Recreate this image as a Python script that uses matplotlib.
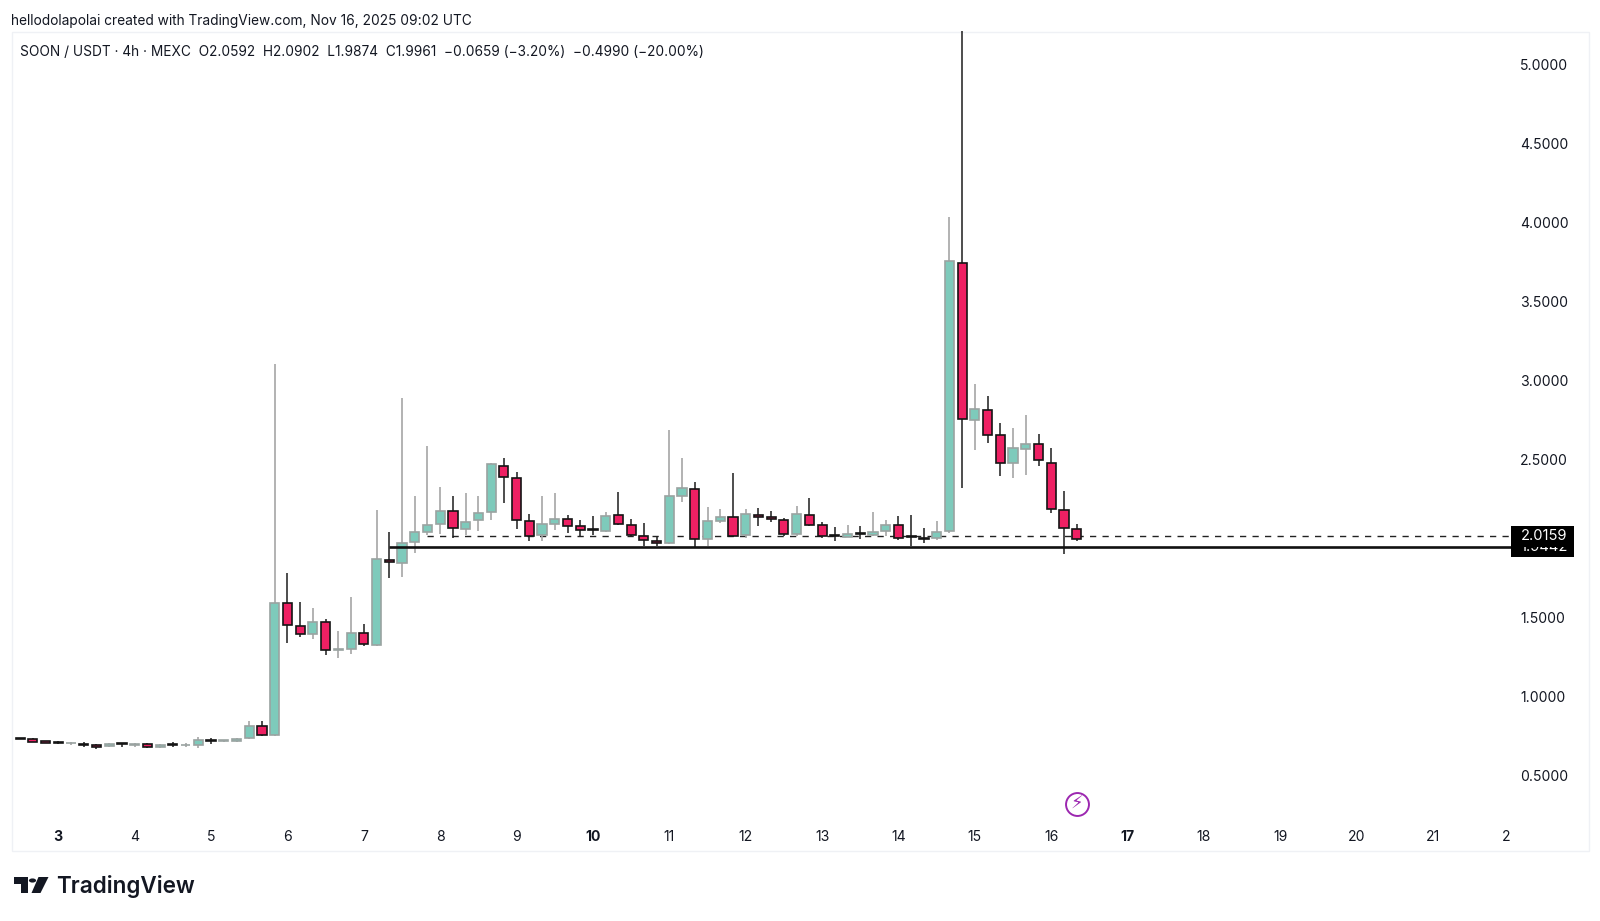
#!/usr/bin/env python3
"""SOON / USDT 4h candles, TradingView snapshot style."""

import numpy as np
import matplotlib
matplotlib.use('Agg')
import matplotlib.pyplot as plt
from matplotlib.patches import Polygon, Rectangle
from matplotlib.transforms import blended_transform_factory

W, H = 1600, 921

# ===================== data =====================
opens = [.735, .729, .716, .712, .703, .701, .693, .688, .704, .696, .700, .679, .700, .692, .693, .725, .720, .720,
         .736, .813, .756, 1.591, 1.447, 1.398, 1.470, 1.293, 1.303, 1.402, 1.326, 1.867, 1.844, 1.979, 2.044, 2.091,
         2.173, 2.059, 2.116, 2.167, 2.462, 2.384, 2.112, 2.025, 2.093, 2.122, 2.078, 2.058, 2.050, 2.152, 2.088,
         2.019, 1.983, 1.974, 2.270, 2.312, 1.996, 2.114, 2.139, 2.023, 2.152, 2.135, 2.118, 2.031, 2.148, 2.084,
         2.023, 2.010, 2.036, 2.023, 2.046, 2.086, 2.015, 2.003, 2.002, 2.050, 3.747, 2.751, 2.817, 2.656, 2.477,
         2.570, 2.597, 2.481, 2.180, 2.0592]
highs = [.737, .735, .718, .716, .712, .712, .700, .705, .707, .708, .705, .698, .712, .705, .742, .735, .727, .737,
         .843, .843, 3.106, 1.780, 1.601, 1.563, 1.489, 1.415, 1.629, 1.458, 2.181, 2.044, 2.893, 2.272, 2.589, 2.329,
         2.268, 2.291, 2.268, 2.477, 2.511, 2.424, 2.154, 2.268, 2.287, 2.152, 2.118, 2.144, 2.171, 2.294, 2.124,
         2.097, 2.012, 2.688, 2.513, 2.359, 2.200, 2.186, 2.414, 2.188, 2.194, 2.175, 2.129, 2.205, 2.259, 2.107,
         2.072, 2.084, 2.080, 2.169, 2.118, 2.145, 2.152, 2.069, 2.114, 4.035, 5.6, 2.977, 2.903, 2.732, 2.703,
         2.783, 2.661, 2.576, 2.304, 2.0902]
lows = [.728, .710, .705, .698, .696, .680, .670, .680, .682, .680, .672, .675, .682, .680, .676, .700, .715, .712,
        .732, .750, .752, 1.341, 1.375, 1.364, 1.263, 1.246, 1.271, 1.320, 1.320, 1.751, 1.759, 1.907, 2.023, 2.031,
        2.004, 2.023, 2.048, 2.116, 2.228, 2.061, 1.987, 1.985, 2.055, 2.036, 2.019, 2.021, 2.040, 2.084, 2.009,
        1.953, 1.953, 1.968, 2.234, 1.947, 1.953, 2.097, 2.009, 2.002, 2.082, 2.103, 2.019, 2.017, 2.080, 2.006,
        1.983, 2.009, 1.998, 2.017, 2.019, 1.991, 1.955, 1.974, 1.993, 2.034, 2.321, 2.560, 2.608, 2.395, 2.384,
        2.401, 2.462, 2.164, 1.901, 1.9874]
closes = [.730, .712, .708, .703, .706, .695, .682, .697, .698, .699, .679, .695, .693, .695, .727, .717, .723, .731,
          .813, .756, 1.591, 1.453, 1.398, 1.470, 1.293, 1.300, 1.402, 1.331, 1.871, 1.850, 1.972, 2.042, 2.086, 2.173,
          2.065, 2.107, 2.160, 2.471, 2.392, 2.116, 2.019, 2.093, 2.122, 2.078, 2.053, 2.054, 2.144, 2.093, 2.023,
          1.989, 1.973, 2.268, 2.319, 1.996, 2.112, 2.139, 2.019, 2.156, 2.135, 2.122, 2.031, 2.154, 2.088, 2.019,
          2.019, 2.031, 2.030, 2.042, 2.084, 2.004, 2.010, 1.998, 2.040, 3.758, 2.760, 2.821, 2.656, 2.477, 2.576,
          2.601, 2.498, 2.186, 2.067, 1.9961]
first_bar = -3  # bars are counted from the "3" tick

day_labels = ['3', '4', '5', '6', '7', '8', '9', '10', '11', '12', '13', '14', '15', '16', '17', '18', '19', '20', '21', '2']
bold_days = ['3', '10', '17']
day_bars = [0, 6, 12, 18, 24, 30, 36, 42, 48, 54, 60, 66, 72, 78, 84, 90, 96, 102, 108, 113.75]
price_ticks = [0.5, 1.0, 1.5, 2.0, 2.5, 3.0, 3.5, 4.0, 4.5, 5.0]
last_price = 2.0159
level_price = 1.9442
level_start_bar = 26
dash_start_bar = 29

# ===================== style =====================
TEAL = '#7ecabb'
TEAL_EDGE = '#9aa3a1'
RED = '#ee2063'
RED_EDGE = '#141414'
TXT = '#131722'
PANE = '#eff1f5'

# pane in pixels
L, R, T, B = 12, 1511, 31.5, 822


def fx(px):
    return px / W


def fy(py):
    return 1 - py / H


plt.rcParams['font.family'] = ['Inter', 'DejaVu Sans']
fig = plt.figure(figsize=(W / 100, H / 100), dpi=100, facecolor='white')
ax = fig.add_axes([fx(L), fy(B), fx(R - L), (B - T) / H])
ax.set_xlim((L - 58.3) / 12.73, (R - 58.3) / 12.73)
ax.set_ylim(0.5 + (775.5 - B) / 157.9, 0.5 + (775.5 - T) / 157.9)
ax.set_zorder(5)
ax.patch.set_alpha(0)
for s in ax.spines.values():
    s.set_visible(False)

# outer frame
fig.add_artist(Rectangle((fx(12), fy(851)), fx(1577), 819.5 / H, fill=False, ec=PANE, lw=1.0))

xs = np.arange(len(opens)) + first_bar
o = np.array(opens)
h = np.array(highs)
lo = np.array(lows)
c = np.array(closes)
up = c >= o

# dashed last price sits under the candles, the drawn level above them
ax.plot([dash_start_bar, ax.get_xlim()[1]], [last_price, last_price], color='#222222', lw=1.0,
        dashes=(4.5, 4.5), zorder=1)
ax.vlines(xs[up], lo[up], h[up], color='#a6a6a6', lw=1.2, zorder=2)
ax.vlines(xs[~up], lo[~up], h[~up], color='#1c1c1c', lw=1.1, zorder=2)
body_lo = np.minimum(o, c)
body_h = np.abs(c - o)
ax.bar(xs[up], body_h[up], bottom=body_lo[up], width=0.72, color=TEAL, edgecolor=TEAL_EDGE, linewidth=1.2, zorder=3)
ax.bar(xs[~up], body_h[~up], bottom=body_lo[~up], width=0.72, color=RED, edgecolor=RED_EDGE, linewidth=1.2, zorder=3)
ax.plot([level_start_bar, ax.get_xlim()[1]], [level_price, level_price], color='#111111', lw=1.9, zorder=4,
        solid_capstyle='butt')

# axis labels
ax.set_xticks(day_bars)
ax.set_xticklabels(day_labels)
ax.tick_params(axis='x', length=0, pad=6, labelsize=10.1, labelcolor=TXT)
for t, lab in zip(ax.get_xticklabels(), day_labels):
    if lab in bold_days:
        t.set_fontweight('bold')
ax.yaxis.tick_right()
ax.set_yticks(price_ticks)
ax.set_yticklabels([f'{p:.4f}' for p in price_ticks])
ax.tick_params(axis='y', length=0, pad=6.5, labelsize=10.1, labelcolor=TXT)

# price flags, the last price covers the level one
flag_tr = blended_transform_factory(fig.transFigure, ax.transData)
for price, top, bot, zo in [(level_price, 537, 557, 6), (last_price, 526, 546.5, 8)]:
    fig.add_artist(Rectangle((fx(1511), fy(bot)), fx(63), (bot - top) / H, fc='black', ec='none', zorder=zo))
    fig.text(fx(1544), price, f'{price:.4f}', transform=flag_tr, ha='center', va='center', color='white',
             fontsize=10.6, zorder=zo + 1)

# bar marker under the chart
ax.plot([80], [0.32], marker='o', ms=16.5, mfc='white', mec='#9c27b0', mew=1.4, zorder=5, clip_on=False)
ax.text(80, 0.32, '\u26a1', color='#9c27b0', fontsize=13, ha='center', va='center', family='DejaVu Sans', zorder=6)

# header
fig.text(fx(11.2), fy(21), 'hellodolapolai created with TradingView.com, Nov 16, 2025 09:02 UTC',
         fontsize=9.9, color=TXT, va='center')
fig.text(fx(20.4), fy(52.5), 'SOON / USDT \u00b7 4h \u00b7 MEXC  O2.0592  H2.0902  L1.9874  C1.9961  '
         '\u22120.0659 (\u22123.20%)  \u22120.4990 (\u221220.00%)', fontsize=9.85, color=TXT, va='center')

# logo
logo_bar = [(14, 877), (28.3, 877), (28.3, 893), (20.7, 893), (20.7, 884), (14, 884)]
logo_slash = [(38.5, 877), (48.5, 877), (40.5, 893), (31.5, 893)]
for pts in (logo_bar, logo_slash):
    fig.add_artist(Polygon([(fx(a), fy(b)) for a, b in pts], closed=True, fc='#131722', ec='none'))
fig.add_artist(plt.Circle((fx(32.5), fy(880.5)), 3.6 / W, fc='#131722', ec='none'))
fig.text(fx(56), fy(886.5), 'TradingView', fontsize=16.2, fontweight='semibold', color='#131722', va='center')

fig.savefig('out.png', dpi=100)
